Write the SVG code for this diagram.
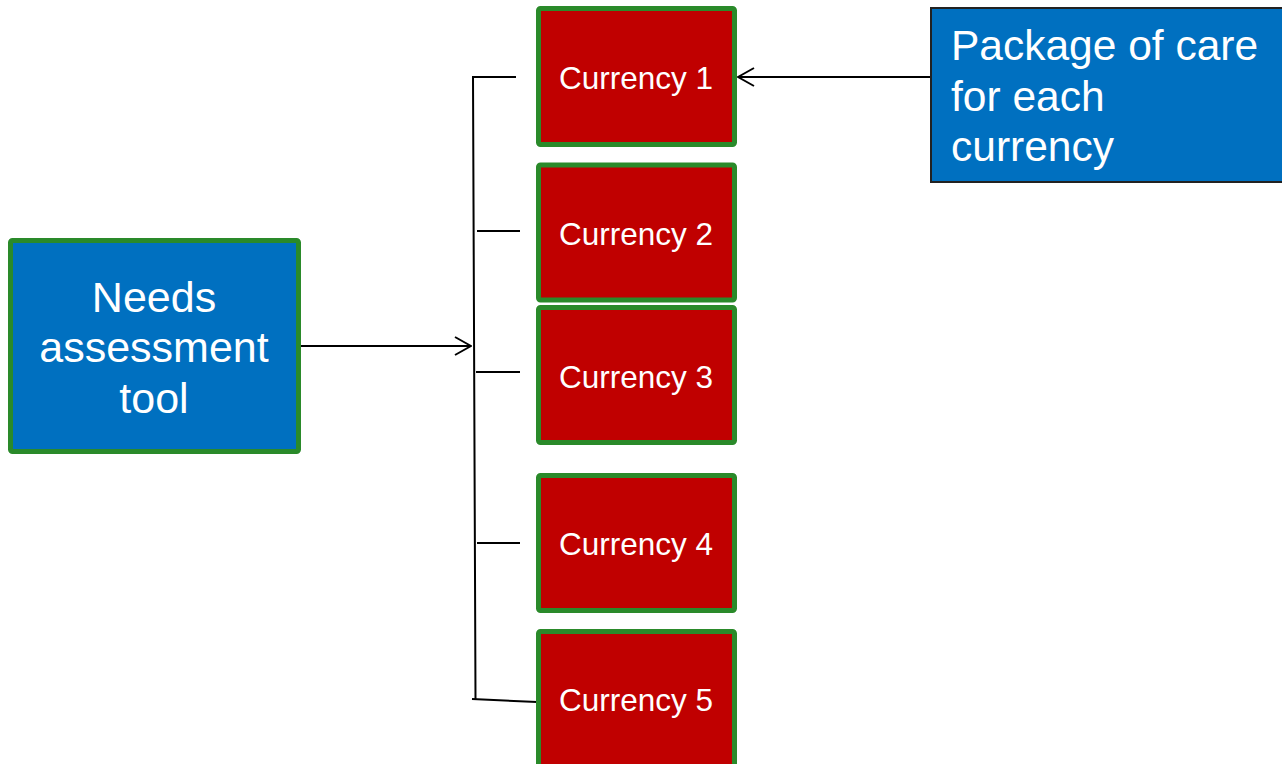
<svg xmlns="http://www.w3.org/2000/svg" width="1282" height="764" viewBox="0 0 1282 764">
<defs>
<style>
.cur rect{fill:#C00000;stroke:#2A8A2A;stroke-width:5}
.cur text{fill:#fff;font-family:"Liberation Sans",Arial,sans-serif;font-size:31.5px;text-anchor:middle}
.blue{fill:#0070C0}
.wt{fill:#fff;font-family:"Liberation Sans",Arial,sans-serif;font-size:42.5px}
.ln{stroke:#000;stroke-width:2;fill:none}
</style>
<marker id="ah" viewBox="0 0 18 20" refX="17" refY="10" markerWidth="18" markerHeight="20" markerUnits="userSpaceOnUse" orient="auto">
<path d="M1,1 L17,10 L1,19" fill="none" stroke="#000" stroke-width="2"/>
</marker>
</defs>
<rect width="1282" height="764" fill="#fff"/>
<g id="connectors">
<path class="ln" d="M516,77 H473 L475.5,699"/>
<path class="ln" d="M472,699 L537,702"/>
<path class="ln" d="M477,231 H520"/>
<path class="ln" d="M476,372 H520"/>
<path class="ln" d="M477,543 H520"/>
<path class="ln" d="M301,346 H471" marker-end="url(#ah)"/>
<path class="ln" d="M930,77 H738" marker-end="url(#ah)"/>
</g>
<g id="needs">
<rect x="10.5" y="240.5" width="288" height="211" rx="2" class="blue" stroke="#2A8A2A" stroke-width="5"/>
<text class="wt" text-anchor="middle" x="154" y="312" style="font-size:43px">Needs</text>
<text class="wt" text-anchor="middle" x="154" y="362" style="font-size:43px">assessment</text>
<text class="wt" text-anchor="middle" x="154" y="413" style="font-size:43px">tool</text>
</g>
<g id="package">
<rect x="931" y="8" width="360" height="174" class="blue" stroke="#222" stroke-width="2"/>
<text class="wt" x="951" y="60">Package of care</text>
<text class="wt" x="951" y="111">for each</text>
<text class="wt" x="951" y="161">currency</text>
</g>
<g id="currency1" class="cur"><rect x="538.5" y="8.5" width="196" height="136" rx="2"/><text x="636" y="89">Currency 1</text></g>
<g id="currency2" class="cur"><rect x="538.5" y="165" width="196" height="135" rx="2"/><text x="636" y="245">Currency 2</text></g>
<g id="currency3" class="cur"><rect x="538.5" y="307.5" width="196" height="135" rx="2"/><text x="636" y="388">Currency 3</text></g>
<g id="currency4" class="cur"><rect x="538.5" y="475.5" width="196" height="135" rx="2"/><text x="636" y="555">Currency 4</text></g>
<g id="currency5" class="cur"><rect x="538.5" y="631.5" width="196" height="200" rx="2"/><text x="636" y="711">Currency 5</text></g>
</svg>
